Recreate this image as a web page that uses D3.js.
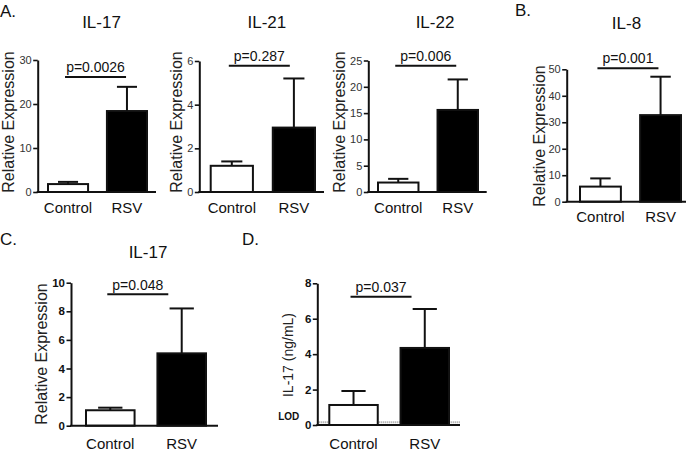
<!DOCTYPE html>
<html>
<head>
<meta charset="utf-8">
<script src="https://cdn.jsdelivr.net/npm/d3@7/dist/d3.min.js"></script>
<style>
  body { margin: 0; background: #fff; }
  svg { display: block; font-family: "Liberation Sans", Arial, Helvetica, sans-serif; }
</style>
</head>
<body>
<svg id="chart" width="689" height="452"></svg>
<script>
// ---- data ----
const groups = ["Control", "RSV"];
const panelLetters = ["A.", "B.", "C.", "D."];
const titles = ["IL-17", "IL-21", "IL-22", "IL-8", "IL-17", ""];
const yLabels = ["Relative Expression", "Relative Expression", "Relative Expression",
                 "Relative Expression", "Relative Expression", "IL-17 (ng/mL)"];
const controlMean  = [1.8, 1.2, 1.8, 5.7, 1.08, 1.13];
const controlUpper = [2.3, 1.4, 2.5, 8.8, 1.26, 1.92];
const rsvMean      = [18.4, 2.95, 15.6, 32.7, 5.06, 4.35];
const rsvUpper     = [23.9, 5.2, 21.4, 47.2, 8.2, 6.55];
const pValues = ["p=0.0026", "p=0.287", "p=0.006", "p=0.001", "p=0.048", "p=0.037"];
const yMax     = [30, 6, 25, 50, 10, 8];
const tickStep = [10, 2, 5, 10, 2, 2];
const lodValue = 0.15;
const lodLabel = "LOD";

// ---- layout (pixels) ----
const layout = [
  { ax: 37.7, axEnd: 156, x0: 48,    x1: 147, yTop: 60,    yBot: 192,   bold: false, ylx: 14,  yly: 122, xlab: 20.5, tdx: 4,  brY: 77,  ptY: 71.5 },
  { ax: 199.3, axEnd: 324, x0: 210.7, x1: 315, yTop: 61,    yBot: 192,   bold: false, ylx: 182, yly: 122, xlab: 20.5, tdx: 4,  brY: 65.7, ptY: 60.7 },
  { ax: 368.3, axEnd: 486.7, x0: 378, x1: 478, yTop: 60.5,  yBot: 192,   bold: false, ylx: 345, yly: 122, xlab: 20.5, tdx: 7,  brY: 65.7, ptY: 60.7 },
  { ax: 566.7, axEnd: 686, x0: 580,   x1: 681, yTop: 69.3,  yBot: 201.7, bold: false, ylx: 545, yly: 136, xlab: 20.3, tdx: -4, brY: 68.3, ptY: 63.3 },
  { ax: 71,   axEnd: 218, x0: 86,     x1: 206, yTop: 282.7, yBot: 425.7, bold: true,  ylx: 47,  yly: 354, xlab: 23.3, tdx: 2,  brY: 294.3, ptY: 290 },
  { ax: 317.3, axEnd: 460, x0: 329.3, x1: 449, yTop: 283.3, yBot: 425,   bold: true,  ylx: 293, yly: 355, xlab: 24,   tdx: 0,  brY: 296.7, ptY: 291.7 }
];
const letterPos = [[0, 17], [515, 16], [0, 245], [242, 245]];
const titleY = [28, 28, 28, 29, 258];

const svg = d3.select("#chart");
const ink = "#111";

// panel letters
panelLetters.forEach((t, i) => {
  svg.append("text").attr("x", letterPos[i][0]).attr("y", letterPos[i][1])
    .attr("font-size", 17).attr("fill", ink).text(t);
});

titles.forEach((title, i) => {
  const L = layout[i];
  const g = svg.append("g");
  const x = d3.scaleBand().domain(groups).range([L.x0, L.x1]).paddingInner(0.32).paddingOuter(0);
  const y = d3.scaleLinear().domain([0, yMax[i]]).range([L.yBot, L.yTop]);
  const bw = x.bandwidth();
  const means = [controlMean[i], rsvMean[i]];
  const uppers = [controlUpper[i], rsvUpper[i]];

  // LOD dotted line (panel D)
  if (i === 5) {
    g.append("line")
      .attr("x1", L.ax).attr("x2", L.axEnd)
      .attr("y1", y(lodValue)).attr("y2", y(lodValue))
      .attr("stroke", "#9a9a9a").attr("stroke-width", 2).attr("stroke-dasharray", "1,1");
  }

  // error bars (upper only)
  groups.forEach((grp, k) => {
    const cx = x(grp) + bw / 2;
    g.append("line").attr("x1", cx).attr("x2", cx)
      .attr("y1", y(means[k])).attr("y2", y(uppers[k]))
      .attr("stroke", ink).attr("stroke-width", 2);
    g.append("line").attr("x1", cx - bw / 4).attr("x2", cx + bw / 4)
      .attr("y1", y(uppers[k])).attr("y2", y(uppers[k]))
      .attr("stroke", ink).attr("stroke-width", 2);
  });

  // bars
  g.selectAll("rect.bar").data(groups).enter().append("rect")
    .attr("class", "bar")
    .attr("x", d => x(d))
    .attr("y", (d, k) => y(means[k]))
    .attr("width", bw)
    .attr("height", (d, k) => y(0) - y(means[k]))
    .attr("fill", (d, k) => k === 0 ? "#fff" : "#000")
    .attr("stroke", ink).attr("stroke-width", 2);

  // y axis
  const ticks = d3.range(0, yMax[i] + 1e-9, tickStep[i]);
  const ya = g.append("g").attr("transform", `translate(${L.ax},0)`)
    .call(d3.axisLeft(y).tickValues(ticks).tickFormat(d3.format("d"))
      .tickSize(4.5).tickSizeOuter(0).tickPadding(1.5));
  ya.select(".domain").attr("stroke", ink).attr("stroke-width", 2);
  ya.selectAll(".tick line").attr("stroke", ink).attr("stroke-width", 1.6);
  ya.selectAll(".tick text")
    .attr("font-size", L.bold ? 11.5 : 11)
    .attr("font-weight", L.bold ? "bold" : "normal")
    .attr("fill", L.bold ? ink : "#333")
    .attr("font-family", "'Liberation Sans', Arial, sans-serif");

  // x axis line
  g.append("line").attr("x1", L.ax - 1).attr("x2", L.axEnd)
    .attr("y1", y(0)).attr("y2", y(0))
    .attr("stroke", ink).attr("stroke-width", 2);

  // x labels
  groups.forEach(grp => {
    g.append("text").attr("x", x(grp) + bw / 2).attr("y", y(0) + L.xlab)
      .attr("text-anchor", "middle").attr("font-size", 15).attr("fill", ink).text(grp);
  });

  // y label
  g.append("text")
    .attr("transform", `translate(${L.ylx},${L.yly}) rotate(-90)`)
    .attr("text-anchor", "middle")
    .attr("font-size", i === 5 ? 14 : 16)
    .attr("fill", "#222").text(yLabels[i]);

  // title
  if (title) {
    g.append("text").attr("x", (L.x0 + L.x1) / 2 + L.tdx).attr("y", titleY[i])
      .attr("text-anchor", "middle").attr("font-size", 17).attr("fill", ink).text(title);
  }

  // significance bracket
  const bx0 = x("Control") + bw / 2 - 3;
  const bx1 = bx0 + 61;
  g.append("line").attr("x1", bx0).attr("x2", bx1)
    .attr("y1", L.brY).attr("y2", L.brY).attr("stroke", ink).attr("stroke-width", 2);
  g.append("text").attr("x", (bx0 + bx1) / 2).attr("y", L.ptY)
    .attr("text-anchor", "middle").attr("font-size", 14).attr("fill", ink).text(pValues[i]);

  // LOD label
  if (i === 5) {
    g.append("text").attr("x", L.ax - 18).attr("y", y(lodValue) - 2)
      .attr("text-anchor", "end").attr("font-size", 10).attr("font-weight", "bold")
      .attr("fill", ink).text(lodLabel);
  }
});
</script>
</body>
</html>
